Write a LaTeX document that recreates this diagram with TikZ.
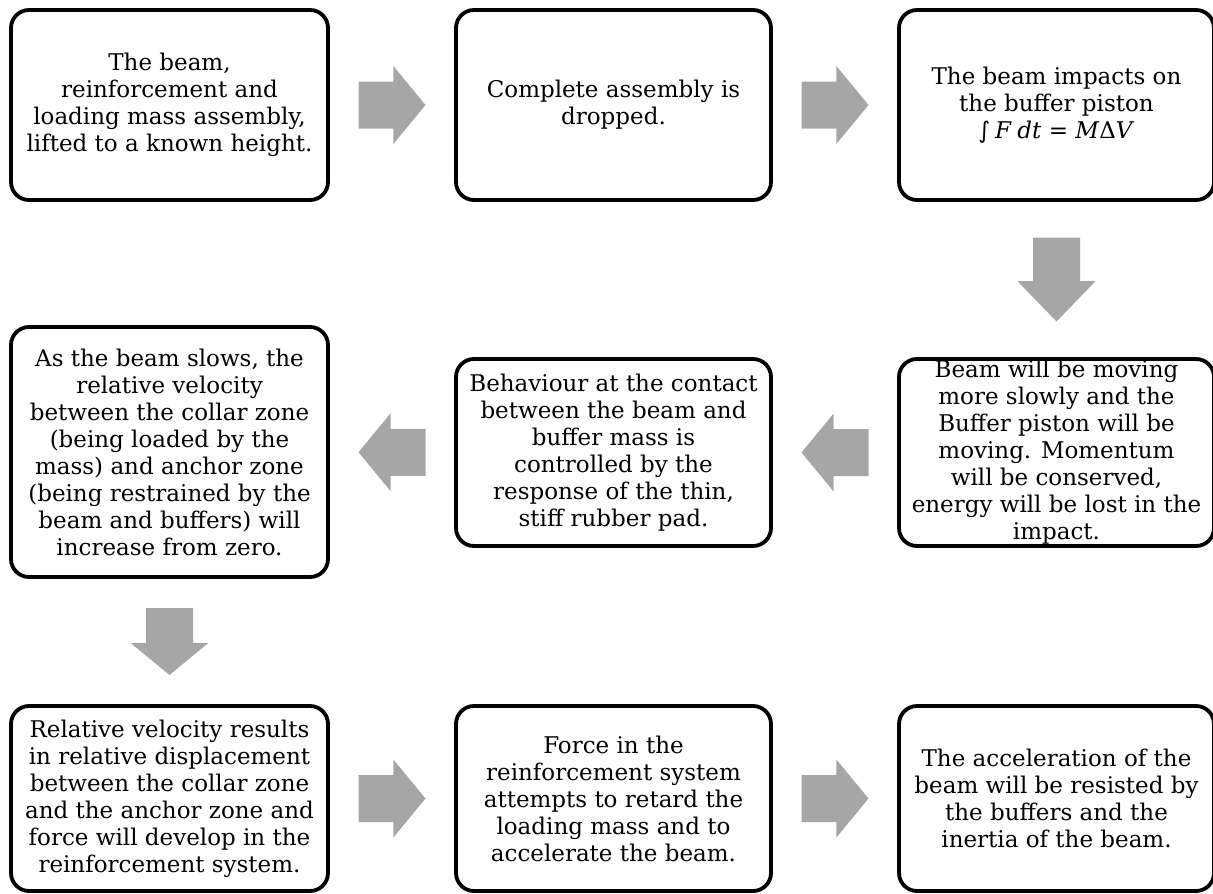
\documentclass[tikz,border=0pt]{standalone}
\usepackage{fontspec}
\setmainfont{DejaVu Serif}
\newfontfamily\symbolfont{DejaVu Sans}
\usetikzlibrary{calc}
\definecolor{arrowgray}{HTML}{A6A6A6}

\tikzset{
  stepbox/.style={draw=black, line width=3.8pt, rounded corners=18pt, fill=white,
    align=center, inner sep=0pt, font=\fontsize{23}{27}\selectfont},
  blk len/.store in=\blklen,
  blk len=67,
  % wide grey block arrow pointing along +x, centred on the origin
  blockarrow/.pic={
    \fill[arrowgray] ({-0.5*\blklen},-23.5) -- ({0.02*\blklen},-23.5) -- ({0.02*\blklen},-39)
      -- ({0.5*\blklen},0) -- ({0.02*\blklen},39) -- ({0.02*\blklen},23.5)
      -- ({-0.5*\blklen},23.5) -- cycle;
  }
}

\begin{document}
\begin{tikzpicture}[x=1pt,y=-1pt]
\useasboundingbox (0,0) rectangle (1213,894);

% first row
\node[stepbox, minimum width=317pt, minimum height=190pt] (b1) at (169.5,105)
  {The beam,\\ reinforcement and\\ loading mass assembly,\\ lifted to a known height.};
\node[stepbox, minimum width=315pt, minimum height=190pt] (b2) at (613.5,105)
  {Complete assembly is\\ dropped.};
\node[stepbox, minimum width=315pt, minimum height=190pt] (b3) at (1056.5,105)
  {The beam impacts on\\ the buffer piston\\
   {\symbolfont ∫}\hspace{0.2em}\textit{F}\hspace{0.25em}\textit{dt} = \textit{M}Δ\textit{V}};

% second row
\node[stepbox, minimum width=315pt, minimum height=187pt] (b6) at (1056.5,452.5)
  {Beam will be moving\\ more slowly and the\\ Buffer piston will be\\ moving. Momentum\\ will be conserved,\\ energy will be lost in the\\ impact.};
\node[stepbox, minimum width=315pt, minimum height=187pt] (b5) at (613.5,452.5)
  {Behaviour at the contact\\ between the beam and\\ buffer mass is\\ controlled by the\\ response of the thin,\\ stiff rubber pad.};
\node[stepbox, minimum width=317pt, minimum height=250pt] (b4) at (169.5,452)
  {As the beam slows, the\\ relative velocity\\ between the collar zone\\ (being loaded by the\\ mass) and anchor zone\\ (being restrained by the\\ beam and buffers) will\\ increase from zero.};

% third row
\node[stepbox, minimum width=317pt, minimum height=185pt] (b7) at (169.5,798.5)
  {Relative velocity results\\ in relative displacement\\ between the collar zone\\ and the anchor zone and\\ force will develop in the\\ reinforcement system.};
\node[stepbox, minimum width=315pt, minimum height=185pt] (b8) at (613.5,798.5)
  {Force in the\\ reinforcement system\\ attempts to retard the\\ loading mass and to\\ accelerate the beam.};
\node[stepbox, minimum width=315pt, minimum height=185pt] (b9) at (1056.5,798.5)
  {The acceleration of the\\ beam will be resisted by\\ the buffers and the\\ inertia of the beam.};

% flow arrows
\pic[blk len=67] at ($(b1.east)!0.5!(b2.west)$) {blockarrow};
\pic[blk len=67] at ($(b2.east)!0.5!(b3.west)$) {blockarrow};
\pic[blk len=84, rotate=-90] at ($(b3.south)!0.5!(b6.north)$) {blockarrow};
\pic[blk len=67, rotate=180] at ($(b6.west)!0.5!(b5.east)$) {blockarrow};
\pic[blk len=67, rotate=180] at ($(b5.west)!0.5!(b4.east)$) {blockarrow};
\pic[blk len=67, rotate=-90] at ($(b4.south)!0.5!(b7.north)$) {blockarrow};
\pic[blk len=67] at ($(b7.east)!0.5!(b8.west)$) {blockarrow};
\pic[blk len=67] at ($(b8.east)!0.5!(b9.west)$) {blockarrow};
\end{tikzpicture}
\end{document}
